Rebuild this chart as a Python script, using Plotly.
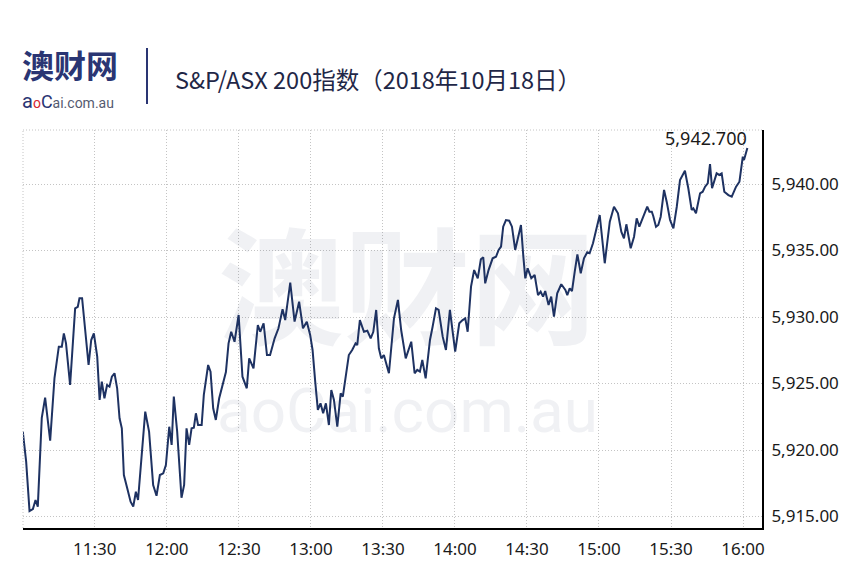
import pandas as pd
import plotly.graph_objects as go

# ---------------- data ----------------
# minutes elapsed after 11:00 on 2018-10-18
minutes_after_11 = [
    0, 1.4, 2.8, 4.2, 5.3, 6.25, 7.9, 9.3, 11.4, 13.2,
    15, 16.25, 17.1, 18, 19.7, 21.8, 22.9, 23.6, 24.7, 27.4,
    28.5, 29.6, 31, 32, 32.9, 34, 35.1, 36.1, 37.1, 38.2,
    39.3, 40.3, 41.25, 42.1, 43.5, 44.9, 46, 47.1, 48, 49.5,
    51, 52.6, 54.3, 55.7, 57.1, 58.5, 59.6,
    61, 62, 62.9, 64.3, 66.1, 67.2, 68.2, 69.3, 70.3, 71.25,
    72.1, 73, 74.5, 75.4, 77.2, 78.2, 79.3, 80.4, 81.8, 83.5,
    84.6, 85.7, 86.8, 88.2, 89.9, 91.5, 93.3, 94.3, 96.1, 97.9,
    98.9, 100.3, 101.7, 103, 104.9, 106.5, 108.2, 109.3, 111.4, 113.2,
    115.1, 116.7, 118.3, 119.7,
    120.7, 121.8, 122.9, 124, 125.1, 126.25, 127.5, 128.5, 129.6, 131,
    132.4, 133.3, 134.9, 135.8, 137.2, 138.6, 139.3, 140.4, 142.1, 143.5,
    144.9, 146, 147.2, 148.3, 149.3, 150.4, 152.5, 154.6, 156.25, 157.6,
    159.5, 161.8, 163.2, 164.3, 165.4, 166.4, 167.8, 169.6, 170.7, 172.1,
    173.2, 174.9, 176.25, 177.9, 180.1,
    181.8, 183.2, 184.3, 185.3, 186.7, 188, 189.5, 190.8, 191.8, 192.6,
    194, 195.7, 197.1, 198.2, 199.2, 200.1, 201.25, 202.6, 203.75, 205.1,
    207.5, 208.5, 209.3, 210.3, 211.8, 213.2, 214.6, 215.7, 216.7, 217.6,
    219, 220.1, 221.25, 222.6, 224.3, 226, 226.8, 227.8, 228.75, 229.9,
    231, 232.4, 233.75, 235.1, 236.1, 237.5,
    240.3, 242.4, 244.5, 246.25, 247.9, 249.3, 250.4, 251.4, 253.2, 254.6,
    255.7, 256.8, 258.2, 260.1, 261, 262, 262.6, 263.75, 264.7, 265.7,
    267.1, 268.2, 269.6, 271, 272.4, 273.75, 275.8, 277.2, 278.6, 279.3,
    280.4, 282.1, 283.2, 284.2, 285.3, 286.25, 287.1, 287.9, 289, 290.1,
    291.1, 292.2, 293.9, 295.3, 297.1, 298.5, 299.9, 300.4, 301.25, 301.8,
]

prices = [
    5921.38, 5919.12, 5915.41, 5915.56, 5916.24, 5915.74, 5922.41, 5923.93, 5920.70, 5925.41,
    5927.77, 5927.77, 5928.77, 5928.02, 5924.89, 5930.65, 5930.77, 5931.41, 5931.41, 5926.39,
    5928.27, 5928.77, 5927.02, 5923.76, 5925.14, 5923.89, 5924.89, 5924.76, 5925.51, 5925.77,
    5924.64, 5922.38, 5921.63, 5918.12, 5917.12, 5916.11, 5915.74, 5916.86, 5916.24, 5919.87,
    5922.88, 5921.38, 5917.37, 5916.56, 5918.12, 5918.25, 5918.87,
    5921.75, 5920.38, 5924.01, 5921.38, 5916.41, 5917.37, 5921.63, 5920.38, 5921.63, 5921.68,
    5922.76, 5921.88, 5921.88, 5924.14, 5926.39, 5925.89, 5923.14, 5922.26, 5923.89, 5925.02,
    5925.86, 5928.02, 5928.89, 5928.14, 5930.15, 5925.51, 5924.64, 5926.89, 5926.14, 5929.40,
    5928.89, 5929.53, 5927.14, 5927.14, 5928.40, 5929.15, 5930.58, 5929.77, 5932.58, 5929.65,
    5931.15, 5929.15, 5929.65, 5928.65,
    5927.52, 5925.14, 5923.01, 5923.51, 5922.76, 5923.51, 5921.88, 5924.51, 5923.76, 5921.75,
    5924.26, 5924.01, 5926.26, 5927.14, 5927.52, 5928.02, 5927.89, 5929.77, 5928.89, 5928.97,
    5928.40, 5928.89, 5930.53, 5927.65, 5926.89, 5927.14, 5925.77, 5929.90, 5931.28, 5929.02,
    5926.89, 5928.14, 5925.77, 5926.02, 5925.89, 5926.77, 5925.39, 5928.27, 5929.27, 5930.65,
    5930.53, 5928.52, 5927.52, 5930.53, 5927.39,
    5929.53, 5929.77, 5929.90, 5928.89, 5932.28, 5933.53, 5932.91, 5934.34, 5934.49, 5932.53,
    5933.53, 5934.41, 5934.53, 5935.04, 5935.29, 5936.79, 5937.29, 5937.24, 5936.79, 5935.04,
    5936.92, 5934.53, 5932.91, 5933.66, 5932.91, 5933.16, 5931.65, 5931.90, 5931.53, 5931.95,
    5930.90, 5931.53, 5930.02, 5931.78, 5932.46, 5932.03, 5931.65, 5932.16, 5931.95, 5933.41,
    5934.71, 5933.29, 5934.41, 5934.86, 5934.79, 5935.54,
    5937.67, 5934.04, 5937.17, 5938.29, 5937.80, 5936.41, 5935.92, 5936.97, 5935.17, 5936.04,
    5937.42, 5936.79, 5937.42, 5938.29, 5937.92, 5937.92, 5937.59, 5936.79, 5936.92, 5937.54,
    5939.55, 5938.67, 5937.29, 5936.67, 5938.29, 5940.30, 5941.00, 5939.68, 5938.05, 5938.17,
    5937.80, 5939.30, 5939.42, 5939.80, 5940.05, 5941.50, 5939.68, 5940.17, 5940.80, 5940.68,
    5940.80, 5939.42, 5939.17, 5939.05, 5939.80, 5940.17, 5942.05, 5941.80, 5942.31, 5942.70,
]

x_tick_labels = ["11:30", "12:00", "12:30", "13:00", "13:30",
                 "14:00", "14:30", "15:00", "15:30", "16:00"]
y_tick_values = [5915, 5920, 5925, 5930, 5935, 5940]
title_text = "S&P/ASX 200指数（2018年10月18日）"
logo_text = "澳财网"
logo_sub = "aoCai.com.au"
date_str = "2018-10-18"

# ---------------- build ----------------
base = pd.Timestamp(f"{date_str} 11:00:00")
times = [base + pd.Timedelta(minutes=m) for m in minutes_after_11]
tickvals = [pd.Timestamp(f"{date_str} {t}:00") for t in x_tick_labels]
last_label = f"{prices[-1]:,.3f}"

W, H = 853, 587
L, R, T, B = 23, 91, 130, 59
PW, PH = W - L - R, H - T - B


def px(x):
    return (x - L) / PW


def py(y):
    return (H - B - y) / PH


NAVY = "#1e3262"
GRID = "#c4c4c4"
GRID_DASH = "1px,2px"
CJK = "Noto Sans CJK SC, Noto Sans, sans-serif"

fig = go.Figure()
fig.add_trace(go.Scatter(
    x=times, y=prices, mode="lines",
    line=dict(color=NAVY, width=2),
    hoverinfo="skip", showlegend=False,
))

x_end = base + pd.Timedelta(minutes=307.9)
fig.update_xaxes(
    type="date",
    range=[base + pd.Timedelta(seconds=5), x_end],
    tickmode="array", tickvals=tickvals, ticktext=x_tick_labels,
    showgrid=True, gridcolor=GRID, griddash=GRID_DASH, gridwidth=1,
    showline=True, linecolor="#000000", linewidth=2,
    ticks="", ticklabelstandoff=5,
    tickfont=dict(size=17, color="#1a1a1a", family="Noto Sans"),
    zeroline=False, fixedrange=True,
)
fig.update_yaxes(
    side="right",
    range=[5914.135, 5944.06],
    tickmode="array", tickvals=y_tick_values, tickformat=",.2f",
    showgrid=True, gridcolor=GRID, griddash=GRID_DASH, gridwidth=1,
    showline=True, linecolor="#000000", linewidth=2,
    ticks="", ticklabelstandoff=4,
    tickfont=dict(size=17, color="#1a1a1a", family="Noto Sans"),
    zeroline=False, fixedrange=True,
)

shapes = [
    # dotted top and left borders of the plot area
    dict(type="line", xref="paper", yref="paper", x0=0, x1=1, y0=1, y1=1,
         line=dict(color=GRID, width=1, dash=GRID_DASH)),
    dict(type="line", xref="paper", yref="paper", x0=0, x1=0, y0=0, y1=1,
         line=dict(color=GRID, width=1, dash=GRID_DASH)),
    # header separator
    dict(type="line", xref="paper", yref="paper", x0=px(147), x1=px(147),
         y0=py(48), y1=py(104), line=dict(color="#2a3573", width=2)),
]

annotations = [
    # watermark
    dict(xref="paper", yref="paper", x=px(407), y=py(280), text=f"<b>{logo_text}</b>",
         showarrow=False, xanchor="center", yanchor="middle",
         font=dict(size=126, color="rgba(40,50,100,0.07)", family=CJK)),
    dict(xref="paper", yref="paper", x=px(407), y=py(410), text=logo_sub,
         showarrow=False, xanchor="center", yanchor="middle",
         font=dict(size=62, color="rgba(40,50,100,0.07)",
                   family="Roboto, Noto Sans, sans-serif")),
    # logo
    dict(xref="paper", yref="paper", x=px(20), y=py(64), text=f"<b>{logo_text}</b>",
         showarrow=False, xanchor="left", yanchor="middle",
         font=dict(size=32, color="#2a3573", family=CJK)),
    dict(xref="paper", yref="paper", x=px(20), y=py(101),
         text=("<span style='font-size:20px;color:#2a3573'>a</span>"
               "<span style='font-size:14px;color:#d5262f'>o</span>"
               "<span style='font-size:18px;color:#2a3573'>C</span>"
               "<span style='font-size:14px;color:#555a70'>ai.com.au</span>"),
         showarrow=False, xanchor="left", yanchor="middle",
         font=dict(size=14, color="#555a70", family="Roboto, Noto Sans, sans-serif")),
    # title
    dict(xref="paper", yref="paper", x=px(173), y=py(79), text=title_text,
         showarrow=False, xanchor="left", yanchor="middle",
         font=dict(size=23.5, color="#1f2747", family=CJK)),
    # last value label
    dict(x=times[-1], y=prices[-1], text=last_label, showarrow=False,
         xanchor="right", yanchor="bottom", xshift=2, yshift=-4,
         font=dict(size=18, color="#1a1a1a", family="Noto Sans")),
]

fig.update_layout(
    width=W, height=H,
    margin=dict(l=L, r=R, t=T, b=B, pad=0),
    paper_bgcolor="#ffffff", plot_bgcolor="#ffffff",
    font=dict(family="Noto Sans, Noto Sans CJK SC, sans-serif", color="#1a1a1a"),
    shapes=shapes, annotations=annotations,
    showlegend=False,
)

fig.write_html("out.html", config={"displayModeBar": False})
